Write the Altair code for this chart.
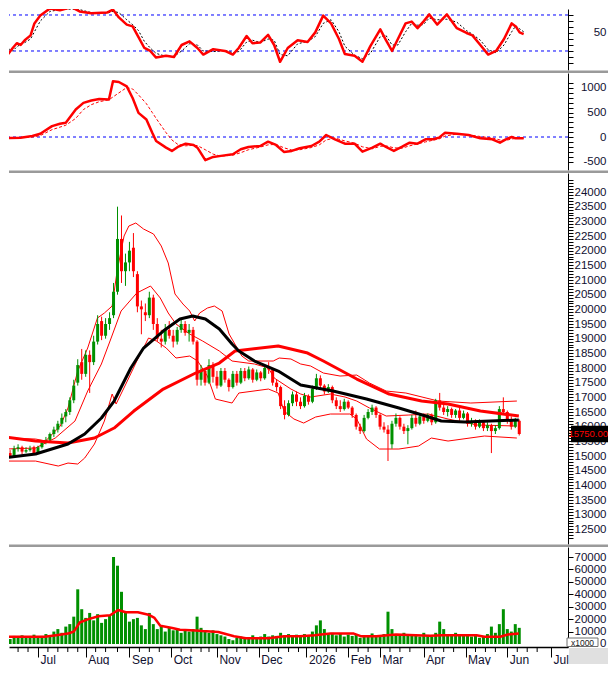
import json
import altair as alt
import pandas as pd

# ---------------- colours / fonts ----------------
FONT = "Arial"
RED = "#ff0000"
GREEN = "#009000"
BLUE = "#0000ff"
BLACK = "#000000"
SEP = "#9a9a9a"
LABEL = "#101030"

# ---------------- layout ----------------
W = 559
H_OSC, H_MACD, H_PRICE, H_VOL = 61, 97, 371, 100
X_DOMAIN = [3.95, 280]

# ---------------- time axis (trading-session index) ----------------
MONTH_DAYS = [16, 40, 62, 83, 106, 127, 151, 172, 188, 210, 231, 252, 274]
MONTH_LABELS = ["Jul", "Aug", "Sep", "Oct", "Nov", "Dec", "2026", "Feb", "Mar", "Apr", "May", "Jun", "Jul"]
WEEK_DAYS = [6, 11, 21, 26, 31, 36, 45, 50, 56, 67, 72, 77, 88, 93, 98, 102, 111, 116, 121,
             132, 137, 142, 147, 156, 161, 166, 177, 182, 193, 198, 203, 215, 220, 225,
             236, 241, 246, 257, 262, 267]

# ---------------- candles (one per two sessions) ----------------
CANDLE_DAY = list(range(0, 260, 2))
OPEN = [15200, 15100, 15000, 15250, 15300, 15150, 15200, 15300, 15100, 15300,
        15450, 15550, 15750, 15900, 16100, 16350, 16500, 16900, 17500, 18200,
        17800, 18450, 18200, 18900, 19600, 19100, 19500, 19800, 20600, 22400,
        21300, 21600, 22100, 21200, 20100, 19900, 19800, 20400, 19500, 19000,
        18900, 19300, 19100, 18900, 19300, 19500, 19200, 19300, 18900, 17600,
        17900, 17500, 18100, 17700, 17400, 17900, 17600, 17350, 17800, 17500,
        17900, 17650, 17950, 17600, 17850, 17650, 18000, 17950, 17500, 17350,
        16700, 16400, 16800, 17100, 16850, 16700, 17050, 16850, 17300, 17650,
        17400, 17200, 17350, 16900, 16700, 16600, 16850, 16650, 16400, 16000,
        15850, 16300, 16500, 16650, 16400, 16000, 15900, 15400, 16100, 16300,
        16000, 15850, 15950, 16300, 16100, 16350, 16200, 16400, 16150, 16900,
        16650, 16500, 16600, 16400, 16550, 16300, 16450, 16100, 16200, 16000,
        16150, 15950, 16050, 15850, 15950, 16600, 16500, 16200, 16000, 16200]
HIGH = [15300, 15200, 15350, 15400, 15350, 15300, 15350, 15350, 15350, 15500,
        15650, 15800, 16000, 16200, 16450, 16600, 17000, 17600, 18300, 18650,
        18600, 18600, 19100, 19800, 19750, 19700, 19900, 20900, 23500, 23200,
        21900, 22300, 22600, 21300, 20300, 20200, 20600, 20500, 19700, 19300,
        19500, 19600, 19300, 19400, 19700, 19600, 19500, 19400, 18950, 18100,
        18000, 18300, 18200, 17900, 18000, 18000, 17650, 17900, 17900, 18000,
        18000, 18050, 18000, 17950, 17900, 18100, 18200, 18000, 17600, 17400,
        16900, 16900, 17200, 17200, 17000, 17150, 17100, 17400, 17800, 17750,
        17450, 17450, 17400, 17000, 16900, 16950, 16900, 16700, 16450, 16100,
        16400, 16600, 16750, 16700, 16450, 16150, 16050, 16200, 16450, 16350,
        16100, 16050, 16400, 16550, 16400, 16450, 16450, 16450, 16950, 17150,
        16800, 16700, 16650, 16600, 16650, 16550, 16500, 16300, 16250, 16250,
        16200, 16150, 16100, 16050, 16700, 17000, 16550, 16350, 16300, 16250]
LOW = [15000, 14950, 15000, 15150, 15050, 15100, 15150, 15050, 15100, 15250,
       15400, 15500, 15650, 15800, 16000, 16150, 16400, 16800, 17400, 17600,
       17700, 17150, 18100, 18800, 18950, 19000, 19300, 19700, 20500, 20900,
       20800, 21300, 21100, 19900, 19150, 19600, 19700, 19300, 18900, 18700,
       18800, 19000, 18700, 18800, 19200, 19100, 18900, 18800, 17400, 17400,
       17400, 17450, 17500, 17300, 17350, 17500, 17200, 17300, 17400, 17450,
       17550, 17600, 17500, 17550, 17550, 17600, 17800, 17400, 17200, 16600,
       16250, 16350, 16700, 16700, 16600, 16650, 16750, 16800, 17250, 17300,
       17100, 17150, 16800, 16600, 16500, 16550, 16600, 16300, 15900, 15750,
       15800, 16250, 16400, 16300, 15900, 15800, 14830, 15250, 16000, 15900,
       15750, 15400, 15900, 16000, 16050, 16100, 16150, 16050, 16100, 16550,
       16400, 16350, 16300, 16300, 16200, 16250, 16000, 16000, 15900, 15950,
       15850, 15850, 15100, 15750, 15900, 16450, 16100, 15900, 15950, 15700]
CLOSE = [15100, 15000, 15250, 15300, 15150, 15200, 15250, 15100, 15300, 15450,
         15550, 15750, 15900, 16100, 16300, 16500, 16900, 17400, 18100, 17800,
         18450, 18200, 18900, 19500, 19100, 19500, 19700, 20600, 22400, 21300,
         21600, 22000, 21300, 20100, 20000, 19800, 20400, 19500, 19000, 18900,
         19300, 19100, 18900, 19300, 19500, 19200, 19300, 18900, 17600, 17900,
         17500, 18100, 17700, 17400, 17900, 17600, 17350, 17800, 17500, 17900,
         17650, 17950, 17600, 17850, 17650, 18000, 17950, 17500, 17350, 16700,
         16400, 16800, 17100, 16850, 16700, 17050, 16850, 17300, 17650, 17400,
         17200, 17350, 16900, 16700, 16600, 16850, 16650, 16400, 16000, 15850,
         16300, 16500, 16650, 16400, 16000, 15900, 15750, 16100, 16300, 16000,
         15850, 15950, 16300, 16100, 16350, 16200, 16400, 16150, 16900, 16650,
         16500, 16600, 16400, 16550, 16300, 16450, 16100, 16200, 16000, 16150,
         15950, 16050, 15850, 15950, 16600, 16500, 16200, 16000, 16200, 15750]
VOLUME = [5800, 4000, 6500, 5000, 7000, 5500, 6000, 7500, 5000, 6500,
          8000, 6500, 10000, 12000, 9000, 14000, 16000, 22000, 44000, 28000,
          21000, 25000, 19000, 24000, 17000, 20000, 23000, 70000, 63000, 42000,
          25000, 18000, 20000, 21000, 15000, 12000, 25000, 16000, 12000, 14000,
          10000, 13000, 11000, 12000, 9000, 11000, 10000, 12000, 22000, 13000,
          10000, 9000, 11000, 8000, 7000, 6000, 4000, 3000, 5000, 6000,
          4500, 5500, 7000, 5000, 6000, 8000, 6000, 7000, 6500, 9000,
          7000, 8000, 6000, 7500, 6500, 8000, 7000, 10000, 15000, 19000,
          12000, 8000, 9000, 7000, 8500, 6000, 7500, 6500, 8000, 5000,
          7000, 6000, 8500, 7000, 6000, 8000, 26000, 12000, 8000, 7000,
          9000, 6500, 8000, 7000, 6000, 9000, 7000, 6000, 9000, 18000,
          12000, 8000, 7000, 9000, 6500, 8000, 7000, 6000, 7500, 5000,
          6500, 8000, 14000, 9000, 16000, 28000, 12000, 10000, 16000, 13000]

# ---------------- moving averages / bands ----------------
MA_BLACK_DAY = [0, 14.8, 31.1, 39.5, 47.9, 54.3, 62.7, 69.1, 79.0, 87.4, 93.8, 100.2, 107.2,
                113.6, 117.0, 124.9, 136.8, 148.1, 164.4, 181.2, 197.5, 210.9, 218.8, 230.6,
                243.5, 257.8]
MA_BLACK = [14950, 15067, 15408, 15749, 16295, 16874, 18000, 18681, 19261, 19670, 19772, 19670,
            19329, 18818, 18579, 18238, 17897, 17420, 17215, 16942, 16635, 16363, 16192, 16158,
            16192, 16226]
MA_RED_DAY = [0, 14.8, 31.1, 44.4, 54.3, 64.2, 79.0, 95.3, 107.2, 115.1, 136.8, 151.6, 159.5,
              176.3, 192.6, 208.9, 222.2, 238.5, 257.8]
MA_RED = [15647, 15510, 15442, 15613, 15954, 16533, 17283, 17829, 18170, 18579, 18749, 18510,
          18238, 17624, 17113, 16874, 16772, 16533, 16363]
BB_UP_DAY = [0, 14.8, 19.8, 27.2, 31.1, 36.0, 41.0, 45.9, 49.4, 53.3, 55.8, 59.3, 61.7, 65.2,
             69.1, 74.1, 78.0, 81.5, 84.9, 88.9, 92.3, 94.8, 97.3, 101.2, 104.7, 108.6, 112.1,
             118.5, 122.0, 134.3, 137.3, 143.2, 148.1, 153.1, 159.5, 167.9, 176.3, 182.7,
             191.1, 201.0, 217.3, 233.6, 256.8]
BB_UP = [15613, 15579, 15510, 16022, 16636, 17897, 18681, 19704, 19875, 20113, 21307, 22500,
         22841, 22943, 22738, 22568, 22159, 21580, 20523, 20182, 19943, 19602, 19875, 20045,
         20113, 19943, 19159, 18408, 18238, 18238, 18340, 18306, 18136, 18068, 17829, 17726,
         17760, 17488, 17215, 17147, 16874, 16806, 16874]
BB_MID_DAY = [0, 14.8, 24.7, 34.6, 41.0, 47.9, 52.8, 57.8, 65.7, 72.6, 77.5, 81.5, 85.4, 92.3,
              98.8, 107.2, 113.6, 124.9, 131.9, 134.8, 143.2, 148.1, 153.1, 163.0, 170.4,
              176.3, 182.7, 191.1, 202.5, 212.3, 222.2, 237.0, 256.8]
BB_MID = [15238, 15272, 15613, 16192, 17215, 18136, 19022, 19943, 20557, 20795, 20386, 19875,
          19500, 19159, 18920, 18579, 18238, 18136, 18000, 17658, 17283, 17113, 17011, 17113,
          17011, 16874, 16636, 16363, 16397, 16431, 16260, 16056, 16022]
BB_LOW_DAY = [0, 14.8, 26.2, 31.1, 36.0, 39.5, 44.4, 49.4, 53.3, 55.3, 60.2, 65.7, 71.6, 75.6,
              80.5, 85.4, 92.3, 96.3, 101.2, 105.2, 113.6, 117.0, 131.9, 136.8, 139.7, 144.7,
              149.6, 155.6, 163.0, 172.8, 176.3, 181.2, 187.7, 197.5, 207.4, 213.8, 222.2,
              240.5, 256.8]
BB_LOW = [14828, 14828, 14658, 14760, 14726, 14931, 15408, 16192, 17113, 16772, 17454, 18238,
          19022, 18920, 18681, 18340, 18408, 18238, 17726, 16942, 16806, 17147, 17283, 17147,
          16533, 16261, 16124, 16329, 16431, 16431, 16261, 15579, 15238, 15238, 15340, 15613,
          15510, 15681, 15613]

# ---------------- oscillator ----------------
OSC_LEVELS = [20, 80]
OSC_DAY = [0, 2.9, 5.8, 7.8, 9.7, 11.7, 14.6, 16.5, 19.4, 24.2, 29.1, 34.9, 38.8, 44.6, 52.3,
           55.3, 58.2, 62.1, 65.0, 67.9, 70.8, 73.7, 76.6, 81.5, 85.4, 89.2, 93.1, 97.0, 99.9,
           104.8, 110.6, 114.5, 117.4, 121.3, 124.2, 128.0, 131.9, 134.9, 137.8, 141.6, 146.5,
           151.4, 155.2, 159.1, 163.0, 166.9, 169.8, 174.6, 178.5, 182.4, 187.3, 190.1, 193.1,
           196.0, 199.8, 202.8, 205.7, 208.6, 211.5, 215.4, 220.2, 225.1, 229.9, 232.8, 236.7,
           240.6, 244.5, 248.4, 252.2, 254.2, 256.1, 258.1]
OSC_K = [35, 12, 25, 33, 30, 38, 46, 66, 79, 91, 88, 93, 86, 83, 84, 89, 76, 64, 61, 43, 25, 20,
         9, 12, 10, 30, 36, 25, 14, 23, 20, 14, 25, 45, 33, 34, 47, 30, 2, 25, 38, 35, 51, 79,
         66, 40, 15, 12, 2, 28, 56, 38, 20, 40, 66, 69, 58, 69, 81, 64, 81, 58, 50, 46, 30, 14,
         20, 40, 66, 61, 51, 48]
OSC_D = [40, 25, 20, 27, 31, 34, 40, 52, 70, 86, 89, 90, 89, 84, 83, 86, 84, 72, 64, 54, 36, 25,
         16, 11, 11, 20, 32, 30, 20, 19, 21, 17, 19, 35, 38, 34, 40, 38, 14, 12, 32, 36, 44, 66,
         72, 52, 28, 13, 7, 16, 44, 46, 30, 30, 52, 66, 63, 64, 75, 72, 73, 68, 54, 48, 38, 22,
         17, 30, 52, 62, 57, 52]

# ---------------- MACD ----------------
MACD_LEVELS = [0]
MACD_DAY = [0, 9.7, 15.5, 19.4, 25.2, 29.1, 32.0, 36.9, 40.7, 44.6, 48.5, 53.3, 55.3, 58.2, 62.1,
            65.0, 67.9, 71.8, 74.7, 76.6, 81.5, 84.4, 87.3, 91.2, 95.1, 97.0, 100.9, 104.8,
            108.6, 114.5, 118.4, 122.2, 128.0, 131.9, 135.8, 139.7, 143.6, 147.5, 153.3, 157.2,
            160.6, 164.9, 169.8, 174.6, 178.5, 183.4, 187.3, 190.1, 194.0, 197.9, 201.8, 205.7,
            209.6, 213.4, 216.3, 219.3, 225.1, 230.9, 236.7, 242.6, 246.4, 249.3, 252.2, 254.2,
            258.1]
MACD = [-27, -13, 20, 67, 223, 270, 290, 561, 696, 744, 777, 764, 1136, 1122, 1034, 797, 493,
        359, 87, -81, -217, -284, -203, -136, -162, -217, -473, -406, -385, -351, -250, -203,
        -183, -95, -162, -304, -284, -229, -183, -95, 41, -47, -136, -136, -298, -217, -136,
        -203, -284, -203, -115, -136, -47, -47, -13, 87, 67, 41, -27, -47, -115, -47, 0, -27,
        -27]
SIG_DAY = [0, 15.5, 19.4, 25.2, 32.0, 36.9, 40.7, 44.6, 48.5, 53.3, 58.2, 62.1, 65.0, 67.9,
           71.8, 74.7, 76.6, 81.5, 84.4, 87.3, 91.2, 95.1, 97.0, 100.9, 104.8, 108.6, 114.5,
           118.4, 122.2, 128.0, 131.9, 135.8, 139.7, 143.6, 147.5, 153.3, 157.2, 160.6, 164.9,
           169.8, 174.6, 178.5, 183.4, 187.3, 190.1, 194.0, 197.9, 201.8, 205.7, 209.6, 213.4,
           216.3, 219.3, 225.1, 230.9, 236.7, 242.6, 246.4, 249.3, 252.2, 254.2, 258.1]
SIGNAL = [-20, 0, 30, 150, 240, 380, 560, 660, 720, 760, 900, 1010, 980, 860, 680, 500, 380, 90,
          -60, -150, -180, -170, -175, -260, -350, -390, -370, -320, -260, -205, -160, -150,
          -220, -265, -260, -215, -160, -60, -20, -80, -125, -200, -240, -190, -180, -220, -230,
          -180, -140, -100, -65, -40, 20, 60, 45, 10, -20, -60, -70, -40, -30, -25]

# ---------------- volume moving average ----------------
VMA_DAY = [0, 19.3, 25.2, 31.1, 34.1, 37.0, 41.0, 46.4, 52.3, 56.3, 60.2, 66.2, 71.6, 74.6, 77.5,
           83.5, 87.4, 95.3, 98.8, 106.7, 114.6, 120.5, 131.9, 139.8, 147.7, 155.1, 163.0,
           174.8, 178.3, 186.2, 196.0, 205.9, 213.3, 219.3, 236.5, 240.5, 248.4, 252.3, 257.8]
VOL_MA = [5800, 5800, 7100, 8400, 10100, 17300, 19800, 22300, 23100, 27400, 25600, 25600, 23600,
          21000, 14700, 12900, 11400, 10900, 10400, 9600, 6300, 4600, 4600, 6300, 6300, 7100,
          8400, 8400, 6300, 6300, 7600, 7100, 6600, 7100, 7100, 5800, 5800, 7600, 8400]

# =====================================================================
xs = alt.Scale(domain=X_DOMAIN, nice=False, zero=False)
one = pd.DataFrame({"k": [0]})


def xenc(axis=None):
    return alt.X("day:Q", scale=xs, axis=axis)


def yaxis(values, expr):
    return alt.Axis(orient="right", values=values, labelExpr=expr, tickSize=5, tickColor=BLACK,
                    domainColor=BLACK, domainWidth=1, labelAlign="right", labelPadding=33,
                    labelFontSize=11.5, labelFont=FONT, labelColor=LABEL, labelBaseline="middle",
                    title=None, grid=False, labelOverlap=False, labelFlush=False)


def line(days, vals, ys, yax, color, width, dash=None, xax=None):
    df = pd.DataFrame({"day": days, "v": vals})
    props = dict(color=color, strokeWidth=width, clip=True, strokeJoin="round")
    if dash is not None:
        props["strokeDash"] = dash
    return alt.Chart(df).mark_line(**props).encode(
        x=xenc(xax), y=alt.Y("v:Q", scale=ys, axis=yax))


def separator(h):
    # grey bar between panels (a rect, so that its bounds stay exact)
    return alt.Chart(one).mark_rect(color=SEP).encode(
        x=alt.value(0), x2=alt.value(W + 40), y=alt.value(h + 0.5), y2=alt.value(h + 3))


# ---------- oscillator panel ----------
ys_osc = alt.Scale(domain=[-11.7, 90], nice=False, zero=False)
ax_osc = yaxis(list(range(0, 81, 10)), "datum.value == 50 ? '50' : ''")
osc_guides = alt.Chart(pd.DataFrame({"v": OSC_LEVELS})).mark_rule(
    color=BLUE, strokeDash=[3, 3], strokeWidth=1).encode(y=alt.Y("v:Q", scale=ys_osc, axis=ax_osc))
osc = alt.layer(
    osc_guides,
    line(OSC_DAY, OSC_D, ys_osc, ax_osc, BLACK, 1, [2, 2]),
    line(OSC_DAY, OSC_K, ys_osc, ax_osc, RED, 2.5),
    separator(H_OSC),
).properties(width=W, height=H_OSC)

# ---------- MACD panel ----------
ys_macd = alt.Scale(domain=[-673, 1306], nice=False, zero=False)
ax_macd = yaxis(list(range(-500, 1101, 100)), "datum.value % 500 == 0 ? '' + datum.value : ''")
macd_guides = alt.Chart(pd.DataFrame({"v": MACD_LEVELS})).mark_rule(
    color=BLUE, strokeDash=[3, 3], strokeWidth=1).encode(y=alt.Y("v:Q", scale=ys_macd, axis=ax_macd))
macd = alt.layer(
    macd_guides,
    line(SIG_DAY, SIGNAL, ys_macd, ax_macd, RED, 1, [3, 2]),
    line(MACD_DAY, MACD, ys_macd, ax_macd, RED, 2.5),
    separator(H_MACD),
).properties(width=W, height=H_MACD)

# ---------- price panel ----------
cdf = pd.DataFrame({"day": CANDLE_DAY, "open": OPEN, "high": HIGH, "low": LOW,
                    "close": CLOSE, "vol": VOLUME})
cdf["dir"] = ["up" if c >= o else "down" for o, c in zip(OPEN, CLOSE)]
cscale = alt.Scale(domain=["up", "down"], range=[GREEN, RED])

ys_p = alt.Scale(domain=[12000, 24648], nice=False, zero=False)
ax_p = yaxis(list(range(12200, 24401, 100)), "datum.value % 500 == 0 ? '' + datum.value : ''")

wicks = alt.Chart(cdf).mark_rule(strokeWidth=1, clip=True).encode(
    x=xenc(), y=alt.Y("low:Q", scale=ys_p, axis=ax_p), y2="high:Q",
    color=alt.Color("dir:N", scale=cscale, legend=None))
bodies = alt.Chart(cdf).mark_bar(size=3, clip=True).encode(
    x=xenc(), y=alt.Y("open:Q", scale=ys_p, axis=ax_p), y2="close:Q",
    color=alt.Color("dir:N", scale=cscale, legend=None))

lastdf = pd.DataFrame({"v": [CLOSE[-1]], "t": [f"{CLOSE[-1]:.2f}"]})
last_box = alt.Chart(lastdf).mark_point(
    shape="M-1,-0.44H1V0.44H-1Z", filled=True, color=BLACK, opacity=1, size=37 * 37,
    strokeWidth=0).encode(x=alt.value(W + 21.5), y=alt.Y("v:Q", scale=ys_p, axis=ax_p))
last_txt = alt.Chart(lastdf).mark_text(
    color=RED, align="right", baseline="middle", font=FONT, fontSize=9.5).encode(
    x=alt.value(W + 40), y=alt.Y("v:Q", scale=ys_p, axis=ax_p), text="t:N")

price = alt.layer(
    line(BB_UP_DAY, BB_UP, ys_p, ax_p, RED, 1),
    line(BB_MID_DAY, BB_MID, ys_p, ax_p, RED, 1),
    line(BB_LOW_DAY, BB_LOW, ys_p, ax_p, RED, 1),
    wicks, bodies,
    line(MA_RED_DAY, MA_RED, ys_p, ax_p, RED, 3),
    line(MA_BLACK_DAY, MA_BLACK, ys_p, ax_p, BLACK, 3),
    last_box, last_txt,
    separator(H_PRICE),
).properties(width=W, height=H_PRICE)

# ---------- volume panel ----------
ys_v = alt.Scale(domain=[-2414, 78046], nice=False, zero=False)
ax_v = yaxis(list(range(0, 70001, 10000)), "'' + datum.value")
label_expr = f"{json.dumps(MONTH_LABELS)}[indexof({json.dumps(MONTH_DAYS)}, datum.value)]"
xax = alt.Axis(values=MONTH_DAYS, labelExpr=label_expr, tickSize=10, tickColor=BLACK,
               domainColor=BLACK, domainWidth=1.5, labelAlign="left", labelOffset=2,
               labelPadding=-3, labelFontSize=12, labelFont=FONT, labelColor=LABEL,
               labelBaseline="top", title=None, grid=False, labelOverlap=False,
               labelFlush=False)

vbars = alt.Chart(cdf).mark_bar(size=3, color=GREEN, clip=True).encode(
    x=xenc(xax), y=alt.Y("vol:Q", scale=ys_v, axis=ax_v), y2=alt.datum(0))
vma = line(VMA_DAY, VOL_MA, ys_v, ax_v, RED, 2.5, xax=xax)
minor = alt.Chart(pd.DataFrame({"day": WEEK_DAYS})).mark_rule(color=BLACK, strokeWidth=1).encode(
    x=xenc(xax), y=alt.value(H_VOL), y2=alt.value(H_VOL + 5))
box1000 = alt.Chart(one).mark_rect(fill="white", stroke="#707070", strokeWidth=1).encode(
    x=alt.value(W - 1), x2=alt.value(W + 30), y=alt.value(H_VOL - 9), y2=alt.value(H_VOL - 0.5))
txt1000 = alt.Chart(one).mark_text(text="x1000", font=FONT, fontSize=8.5, color="#202020",
                                   align="center", baseline="middle").encode(
    x=alt.value(W + 14.5), y=alt.value(H_VOL - 4.5))
graybox = alt.Chart(one).mark_rect(color="#e0e0e0").encode(
    x=alt.value(W + 1), x2=alt.value(W + 40), y=alt.value(H_VOL + 1), y2=alt.value(H_VOL + 17))

vol = alt.layer(vbars, vma, minor, box1000, txt1000, graybox).properties(width=W, height=H_VOL)

chart = alt.vconcat(
    osc, macd, price, vol, spacing=3, bounds="flush",
    padding={"left": 0, "top": 0, "right": 0, "bottom": 0},
    background="white",
).configure_view(strokeWidth=0)

chart.save("out.html", embed_options={"renderer": "svg", "actions": False})
